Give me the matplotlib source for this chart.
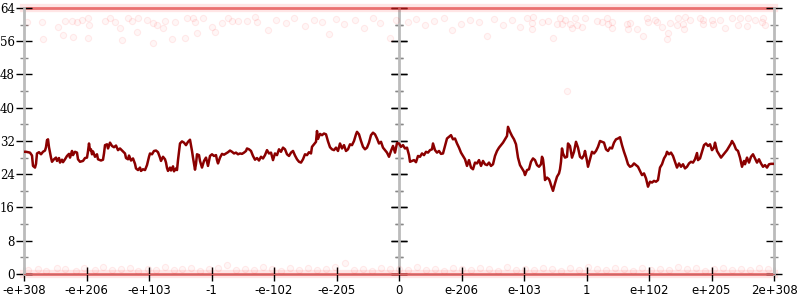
import matplotlib
matplotlib.use('Agg')
import matplotlib.pyplot as plt
import numpy as np
from matplotlib.ticker import MultipleLocator

# tick labels along the bottom (float exponent scale)
x_labels = ['-e+308', '-e+206', '-e+103', '-1', '-e-102', '-e-205', '0',
            'e-206', 'e-103', '1', 'e+102', 'e+205', '2e+308']
y_ticks = [0, 8, 16, 24, 32, 40, 48, 56, 64]

# traced level (position, value)
level_points = [
    (0, 29.4), (2, 29.4), (6, 29.2), (8, 28.5), (9, 26.0), (11, 25.6), (12, 26.5), (13, 29.0),
    (15, 29.3), (17, 28.8), (19, 29.4), (21, 29.7), (22, 30.5), (23, 32.2), (24, 32.4), (25, 30.5),
    (27, 28.0), (28, 27.0), (30, 27.6), (32, 28.0), (33, 27.2), (35, 27.9), (36, 26.8), (38, 27.5),
    (39, 26.9), (41, 27.6), (43, 28.4), (45, 28.9), (46, 28.0), (48, 29.6), (49, 28.6), (51, 29.4),
    (53, 29.2), (54, 27.6), (56, 27.0), (59, 27.2), (61, 27.9), (63, 28.0), (64, 29.5), (65, 31.4),
    (66, 29.8), (67, 30.0), (68, 28.8), (69, 29.5), (71, 28.2), (73, 28.8), (74, 27.6), (77, 27.3),
    (79, 27.5), (80, 29.0), (81, 31.0), (83, 31.2), (84, 30.2), (86, 31.6), (88, 30.8), (90, 30.5),
    (92, 30.9), (94, 29.8), (96, 30.2), (99, 29.5), (101, 29.0), (102, 27.9), (104, 27.6), (105, 28.5),
    (107, 27.3), (109, 27.8), (111, 26.5), (112, 25.4), (114, 25.0), (116, 25.6), (117, 24.8), (119, 25.2),
    (121, 25.0), (123, 26.2), (125, 28.2), (126, 29.0), (128, 28.8), (130, 29.6), (132, 29.7), (134, 29.3),
    (136, 28.0), (137, 27.2), (139, 28.2), (141, 27.6), (142, 26.8), (143, 25.5), (144, 24.8), (146, 25.6),
    (147, 24.9), (149, 25.9), (150, 24.7), (152, 25.4), (153, 25.0), (154, 27.4), (155, 29.5), (156, 31.4),
    (158, 31.9), (160, 31.6), (162, 31.0), (164, 31.8), (166, 32.3), (167, 31.0), (168, 29.6), (169, 28.0),
    (171, 25.1), (172, 26.5), (173, 28.8), (175, 28.6), (176, 27.2), (178, 25.6), (180, 27.2), (182, 28.0),
    (183, 27.0), (184, 26.0), (186, 28.4), (188, 28.8), (190, 28.4), (192, 28.6), (193, 27.4), (194, 26.6),
    (196, 28.0), (198, 28.9), (200, 28.7), (202, 29.0), (204, 29.3), (206, 29.7), (208, 29.4), (210, 29.0),
    (212, 29.2), (214, 28.8), (216, 29.0), (218, 28.9), (220, 29.2), (222, 29.6), (223, 30.2), (225, 30.0),
    (227, 29.6), (229, 28.4), (231, 27.5), (233, 27.9), (235, 27.3), (237, 28.2), (239, 27.8), (241, 28.6),
    (243, 29.8), (245, 29.0), (247, 29.2), (249, 27.4), (251, 29.0), (253, 28.6), (255, 30.0), (257, 29.4),
    (259, 30.4), (261, 30.0), (263, 28.8), (265, 28.4), (267, 29.2), (269, 29.6), (271, 28.5), (273, 27.6),
    (275, 27.0), (277, 26.8), (279, 27.6), (281, 28.8), (283, 28.6), (285, 29.3), (287, 29.0), (288, 30.6),
    (290, 31.2), (292, 31.8), (293, 34.4), (294, 32.5), (296, 33.7), (298, 33.4), (300, 33.8), (302, 33.6),
    (304, 31.9), (306, 30.5), (308, 30.0), (310, 29.8), (312, 30.4), (314, 29.6), (316, 31.4), (318, 30.2),
    (320, 31.0), (322, 29.6), (324, 30.0), (326, 31.2), (328, 31.0), (330, 32.0), (332, 33.6), (333, 34.2),
    (335, 33.6), (337, 32.0), (339, 30.6), (341, 30.0), (343, 30.4), (345, 31.6), (347, 33.4), (349, 34.0),
    (351, 33.6), (353, 32.6), (355, 31.4), (357, 31.8), (359, 30.4), (361, 29.8), (363, 29.2), (365, 28.2),
    (367, 29.6), (369, 30.8), (371, 29.2), (373, 31.5), (375, 31.4), (377, 30.6), (379, 31.0), (381, 30.2),
    (383, 30.4), (385, 28.6), (386, 27.0), (388, 27.2), (390, 27.4), (392, 26.9), (394, 28.4), (396, 28.2),
    (398, 29.0), (400, 28.6), (402, 29.4), (404, 29.2), (406, 29.8), (408, 30.0), (409, 31.4), (411, 29.8),
    (413, 29.2), (415, 29.6), (417, 28.9), (419, 29.0), (421, 30.8), (423, 32.6), (425, 33.0), (427, 33.4),
    (429, 32.4), (431, 32.6), (433, 31.4), (435, 30.4), (437, 29.2), (439, 28.4), (441, 27.6), (443, 26.0),
    (445, 27.4), (447, 25.6), (449, 25.2), (451, 26.8), (453, 26.6), (455, 27.4), (457, 26.0), (459, 27.2),
    (461, 26.4), (463, 26.2), (465, 26.8), (467, 26.0), (469, 26.4), (471, 28.4), (473, 29.6), (475, 30.4),
    (477, 31.0), (479, 31.6), (481, 32.4), (483, 33.2), (484, 35.4), (486, 34.2), (488, 33.2), (490, 32.4),
    (492, 31.2), (494, 28.0), (496, 26.2), (498, 25.4), (500, 24.6), (501, 23.8), (503, 25.0), (505, 25.2),
    (507, 27.0), (509, 27.8), (511, 27.4), (513, 26.2), (515, 25.8), (517, 26.4), (518, 28.2), (519, 27.6),
    (520, 25.6), (521, 22.6), (523, 23.2), (525, 22.8), (526, 22.2), (527, 21.4), (529, 20.0), (531, 21.8),
    (533, 23.4), (535, 24.2), (536, 25.2), (537, 27.0), (538, 30.2), (539, 29.0), (541, 28.0), (543, 28.2),
    (544, 31.4), (546, 30.8), (548, 28.0), (550, 29.4), (552, 31.8), (554, 30.4), (556, 28.2), (558, 27.8),
    (560, 28.6), (561, 29.6), (563, 27.2), (564, 25.8), (566, 27.6), (568, 29.4), (570, 29.0), (572, 29.6),
    (574, 30.6), (576, 32.0), (578, 31.8), (580, 31.6), (582, 30.0), (584, 29.6), (586, 30.4), (588, 30.2),
    (590, 31.6), (592, 32.4), (594, 32.6), (596, 32.9), (598, 31.0), (600, 29.4), (602, 28.0), (604, 26.4),
    (606, 25.8), (608, 26.0), (610, 26.6), (612, 26.2), (614, 25.8), (616, 24.8), (618, 23.8), (620, 24.2),
    (622, 23.0), (624, 21.0), (626, 22.2), (628, 22.0), (630, 22.4), (632, 22.2), (634, 22.6), (636, 25.6),
    (638, 26.4), (640, 27.8), (642, 28.6), (643, 29.4), (645, 28.8), (647, 29.2), (649, 28.4), (651, 27.0),
    (653, 25.6), (655, 26.6), (657, 25.8), (659, 26.4), (661, 25.4), (663, 25.8), (665, 26.6), (667, 27.0),
    (669, 26.8), (671, 27.6), (673, 29.1), (674, 27.4), (676, 27.8), (678, 29.4), (680, 31.0), (682, 31.4),
    (684, 30.8), (686, 31.2), (688, 29.8), (690, 30.4), (691, 31.6), (693, 29.6), (695, 28.8), (697, 28.0),
    (699, 28.6), (701, 29.2), (703, 29.8), (705, 30.6), (707, 31.4), (708, 32.0), (710, 31.2), (712, 30.0),
    (714, 29.6), (716, 28.0), (718, 25.8), (720, 27.2), (721, 26.4), (723, 28.0), (725, 26.8), (727, 28.2),
    (729, 28.8), (731, 27.8), (733, 26.8), (735, 27.6), (737, 26.6), (739, 25.8), (741, 26.2), (743, 25.6),
    (745, 26.4), (747, 26.5), (750, 26.5),
]

# faint samples stuck near the top
top_dots = [
    (3, 60.7), (18, 60.7), (19, 56.5), (34, 59.5), (39, 57.5), (41, 60.9), (48, 60.9), (49, 57.0),
    (53, 60.7), (58, 61.1), (64, 61.5), (64, 56.7), (65, 59.9), (81, 60.9), (86, 61.5), (91, 60.7),
    (98, 56.3), (96, 59.1), (104, 61.5), (108, 60.9), (113, 58.3), (114, 61.5), (123, 61.1), (129, 60.3),
    (129, 55.5), (133, 59.9), (141, 60.9), (139, 59.1), (148, 56.5), (151, 60.7), (161, 56.7), (163, 61.5),
    (169, 61.5), (173, 58.1), (171, 60.7), (179, 61.5), (188, 59.5), (191, 58.3), (198, 60.5), (204, 61.5),
    (208, 60.9), (214, 60.9), (223, 60.9), (231, 61.9), (233, 60.7), (244, 58.7),
    (252, 61.2), (262, 60.4), (270, 61.6), (281, 59.6), (290, 61.0), (298, 60.6), (305, 57.8), (312, 61.4),
    (320, 60.2), (331, 61.0), (340, 59.2), (349, 61.6), (356, 60.4), (366, 56.8), (372, 61.2), (384, 60.6),
    (392, 61.4), (401, 59.8), (410, 60.8), (420, 61.6), (428, 58.6), (437, 60.2), (446, 61.2), (455, 60.6),
    (463, 57.2), (470, 61.4), (479, 60.0), (488, 61.0), (496, 59.4), (503, 61.6),
    (509, 61.9), (508, 60.3), (508, 58.9), (518, 60.7), (524, 60.9), (529, 56.7), (533, 60.2), (538, 60.2),
    (536, 61.5), (541, 61.1), (546, 60.2), (548, 59.1), (551, 61.5), (553, 59.9), (558, 59.5), (561, 61.5),
    (543, 44.1), (573, 60.9), (578, 60.7), (583, 61.5), (584, 60.2), (588, 60.7), (588, 59.1), (603, 60.2),
    (604, 58.9), (606, 60.5), (613, 58.9), (619, 57.3), (623, 61.5), (624, 60.7), (631, 61.1), (633, 60.7),
    (638, 59.5), (643, 56.5), (644, 58.1), (646, 60.5), (653, 59.9), (654, 61.5), (659, 60.2), (660, 58.9),
    (661, 61.8), (666, 61.1), (676, 61.5), (679, 60.2), (679, 61.1), (688, 61.1), (689, 60.2), (696, 61.1),
    (701, 59.1), (708, 61.5), (714, 59.9), (716, 61.5), (723, 59.7), (724, 61.5), (731, 61.1), (738, 60.7),
    (739, 61.5), (741, 59.9),
]

# faint samples stuck near the bottom
bottom_dots = [
    (4, 1.0), (14, 1.3), (22, 0.8), (33, 1.5), (41, 1.1), (52, 0.7), (60, 1.4), (71, 1.0),
    (79, 1.6), (88, 0.9), (97, 1.2), (106, 1.5), (114, 0.8), (124, 1.3), (132, 1.0), (141, 1.6),
    (150, 0.9), (158, 1.2), (167, 1.4), (176, 0.8), (185, 1.1), (194, 1.5), (203, 2.2), (212, 1.0),
    (221, 1.3), (230, 0.9), (239, 1.6), (248, 1.1), (257, 0.8), (266, 1.4), (275, 1.0), (284, 1.5),
    (293, 0.9), (302, 1.2), (311, 1.6), (321, 2.6), (330, 1.0), (339, 1.3), (348, 0.8), (357, 1.5),
    (366, 1.1), (375, 1.3), (384, 0.9), (393, 1.6), (402, 1.0), (411, 1.3), (420, 0.8), (429, 1.5),
    (438, 1.1), (447, 0.9), (456, 1.4), (465, 1.2), (474, 0.8), (483, 1.6), (492, 1.0), (501, 1.3),
    (510, 0.9), (519, 1.5), (528, 1.1), (537, 0.8), (546, 1.4), (555, 1.0), (564, 1.6), (573, 1.2),
    (582, 0.9), (591, 1.4), (600, 1.1), (609, 0.8), (618, 1.5), (627, 1.0), (636, 1.3), (645, 0.9),
    (654, 1.6), (663, 1.1), (672, 1.4), (681, 0.8), (690, 1.2), (699, 1.5), (708, 1.0), (717, 1.3),
    (726, 0.9), (735, 1.4), (744, 1.1),
]

x_max = 750
x_ticks = np.linspace(0, x_max, len(x_labels))

fig = plt.figure(figsize=(8, 3), dpi=100)
ax = fig.add_axes([0.03, 0.0867, 0.9375, 0.8867])

lx, ly = zip(*level_points)
tx, ty = zip(*top_dots)
bx, by = zip(*bottom_dots)

# saturated bands at the limits
for yv in (y_ticks[0], y_ticks[-1]):
    ax.axhline(yv, color='red', alpha=0.1, lw=6, clip_on=False, zorder=1)
    ax.axhline(yv, color='#dd2222', alpha=0.6, lw=2, clip_on=False, zorder=1)

dot_style = dict(s=20, facecolors=(1, 0, 0, 0.035), edgecolors=(1, 0, 0, 0.07),
                 linewidths=0.8, zorder=2, clip_on=False)
ax.scatter(tx, ty, **dot_style)
ax.scatter(bx, by, **dot_style)

ax.plot(lx, ly, color='#8b0000', lw=1.8, zorder=4)

ax.set_xlim(0, x_max)
ax.set_ylim(y_ticks[0], y_ticks[-1])

ax.set_xticks(x_ticks)
ax.set_xticklabels(x_labels, family='DejaVu Sans', fontsize=8.5)
ax.set_yticks(y_ticks)
ax.set_yticklabels([str(v) for v in y_ticks], family='DejaVu Serif', fontsize=8.5)
ax.yaxis.set_minor_locator(MultipleLocator(4))

for side in ('left', 'right'):
    ax.spines[side].set_color('#bbbbbb')
    ax.spines[side].set_linewidth(2)
ax.spines['top'].set_visible(False)
ax.spines['bottom'].set_color('#cc6666')

ax.tick_params(axis='y', which='major', direction='inout', length=12, width=1,
               color='black', left=True, right=True, pad=0.5)
ax.tick_params(axis='y', which='minor', direction='inout', length=6, width=1,
               color='#888888', left=True, right=True)
ax.tick_params(axis='x', which='major', direction='inout', length=10, width=1,
               color='black', pad=2)

# middle axis at zero
mid = ax.secondary_yaxis(0.5)
mid.set_yticks(y_ticks)
mid.yaxis.set_minor_locator(MultipleLocator(4))
mid.tick_params(which='major', direction='inout', length=12, width=1, color='black',
                labelleft=False, labelright=False, left=True, right=True)
mid.tick_params(which='minor', direction='inout', length=6, width=1, color='#888888',
                left=True, right=True)
for sp in mid.spines.values():
    sp.set_color('#bbbbbb')
    sp.set_linewidth(2)

fig.savefig('out.png', dpi=100)
